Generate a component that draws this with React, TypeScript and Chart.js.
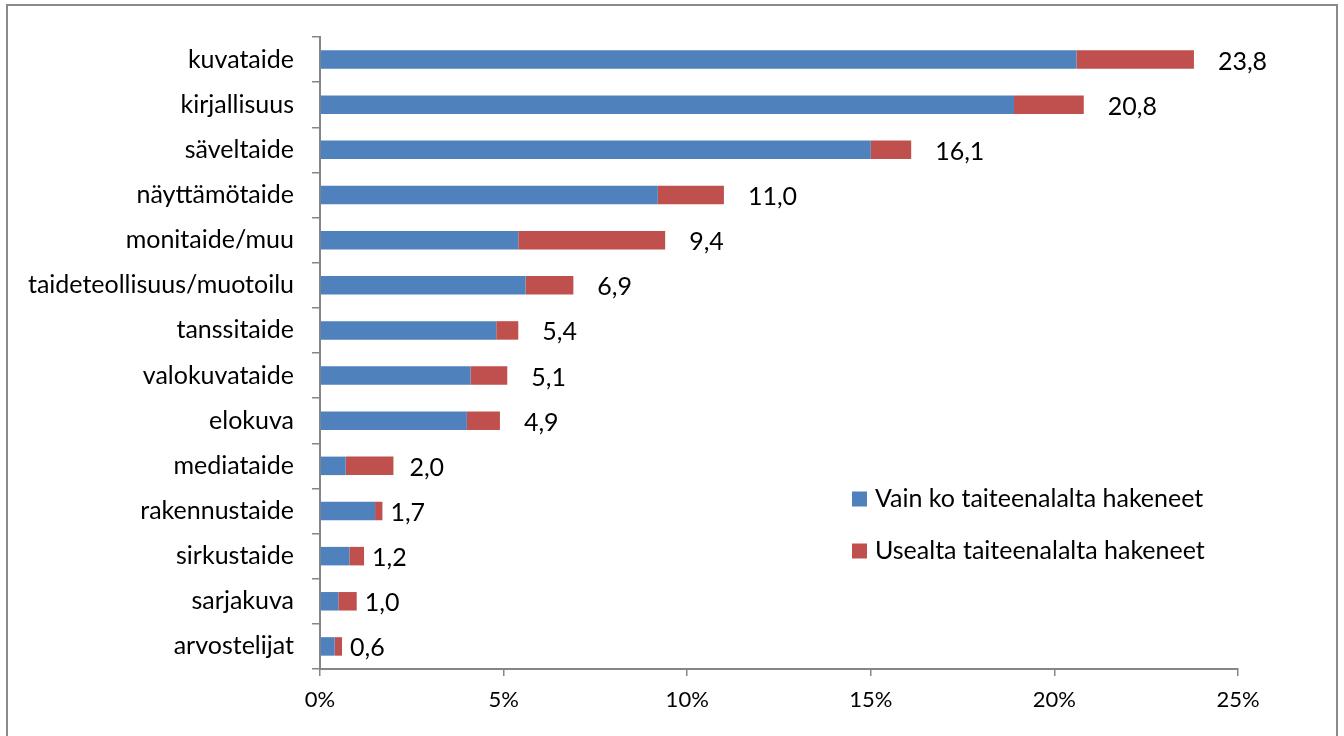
import React, { useEffect, useRef } from 'react';
import { Chart, registerables } from 'chart.js';

Chart.register(...registerables);

const categories = [
  'kuvataide',
  'kirjallisuus',
  'säveltaide',
  'näyttämötaide',
  'monitaide/muu',
  'taideteollisuus/muotoilu',
  'tanssitaide',
  'valokuvataide',
  'elokuva',
  'mediataide',
  'rakennustaide',
  'sirkustaide',
  'sarjakuva',
  'arvostelijat',
];
const onlyOneField = [20.6, 18.9, 15.0, 9.2, 5.4, 5.6, 4.8, 4.1, 4.0, 0.7, 1.5, 0.8, 0.5, 0.4];
const severalFields = [3.2, 1.9, 1.1, 1.8, 4.0, 1.3, 0.6, 1.0, 0.9, 1.3, 0.2, 0.4, 0.5, 0.2];
const totals = [23.8, 20.8, 16.1, 11.0, 9.4, 6.9, 5.4, 5.1, 4.9, 2.0, 1.7, 1.2, 1.0, 0.6];
const seriesNames = ['Vain ko taiteenalalta hakeneet', 'Usealta taiteenalalta hakeneet'];
const xTickValues = [0, 5, 10, 15, 20, 25];

const FONT = 'Lato';
const AXIS = '#868686';
const BLUE = '#4F81BD';
const RED = '#C0504D';

const fmt = (v: number) => v.toFixed(1).replace('.', ',');

export default function App() {
  const ref = useRef<HTMLCanvasElement>(null);

  useEffect(() => {
    const canvas = ref.current;
    if (!canvas) return;

    const framePlugin = {
      id: 'frame',
      beforeDraw(chart: any) {
        const ctx = chart.ctx;
        ctx.save();
        ctx.fillStyle = '#ffffff';
        ctx.fillRect(0, 0, chart.width, chart.height);
        ctx.strokeStyle = '#8a8a8a';
        ctx.lineWidth = 2;
        ctx.strokeRect(7, 5, 1330, 760);
        ctx.restore();
      },
    };

    const totalsPlugin = {
      id: 'totals',
      afterDatasetsDraw(chart: any) {
        const ctx = chart.ctx;
        const meta = chart.getDatasetMeta(chart.data.datasets.length - 1);
        ctx.save();
        ctx.font = `25px ${FONT}`;
        ctx.fillStyle = '#000';
        ctx.textAlign = 'left';
        ctx.textBaseline = 'middle';
        meta.data.forEach((bar: any, i: number) => {
          const t = totals[i];
          const gap = t >= 4 ? 24 : t >= 2 ? 16 : 8;
          ctx.fillText(fmt(t), bar.x + gap, bar.y + 2);
        });
        ctx.restore();
      },
    };

    const legendPlugin = {
      id: 'customLegend',
      afterDraw(chart: any) {
        const ctx = chart.ctx;
        const area = chart.chartArea;
        const x0 = area.right - 386;
        const y0 = area.bottom - 170;
        ctx.save();
        ctx.font = `25px ${FONT}`;
        ctx.textAlign = 'left';
        ctx.textBaseline = 'middle';
        chart.data.datasets.forEach((ds: any, i: number) => {
          const cy = y0 + i * 52;
          ctx.fillStyle = ds.backgroundColor;
          ctx.fillRect(x0, cy - 7.5, 15, 15);
          ctx.fillStyle = '#000';
          ctx.fillText(ds.label, x0 + 23, cy);
        });
        ctx.restore();
      },
    };

    const chart = new Chart(canvas, {
      type: 'bar',
      data: {
        labels: categories,
        datasets: [
          { label: seriesNames[0], data: onlyOneField, backgroundColor: BLUE, borderWidth: 0 },
          { label: seriesNames[1], data: severalFields, backgroundColor: RED, borderWidth: 0 },
        ],
      },
      options: {
        indexAxis: 'y',
        responsive: false,
        animation: false,
        devicePixelRatio: 1,
        layout: { padding: { top: 37, right: 106, bottom: 0, left: 0 } },
        datasets: { bar: { categoryPercentage: 1, barPercentage: 0.41 } },
        plugins: { legend: { display: false }, tooltip: { enabled: false } },
        scales: {
          x: {
            stacked: true,
            min: 0,
            max: 25,
            afterBuildTicks: (scale: any) => {
              scale.ticks = xTickValues.map((v) => ({ value: v }));
            },
            ticks: {
              callback: (v: any) => v + '%',
              color: '#000',
              font: { family: FONT, size: 22 },
              padding: 11,
              maxRotation: 0,
            },
            grid: {
              display: true,
              drawOnChartArea: false,
              drawTicks: true,
              tickLength: 7,
              color: AXIS,
              lineWidth: 1.5,
            },
            border: { display: true, color: AXIS, width: 2 },
            afterFit: (s: any) => {
              s.height = 67;
            },
          },
          y: {
            stacked: true,
            ticks: { color: '#000', font: { family: FONT, size: 25 }, padding: 18, autoSkip: false },
            grid: {
              display: true,
              offset: true,
              drawOnChartArea: false,
              drawTicks: true,
              tickLength: 8,
              color: AXIS,
              lineWidth: 1.5,
            },
            border: { display: true, color: AXIS, width: 2 },
            afterFit: (s: any) => {
              s.width = 320;
            },
          },
        },
      },
      plugins: [framePlugin, totalsPlugin, legendPlugin],
    });

    return () => chart.destroy();
  }, []);

  return (
    <div style={{ position: 'absolute', left: 0, top: 0, width: 1344, height: 736 }}>
      <canvas ref={ref} width={1344} height={736} style={{ display: 'block' }} />
    </div>
  );
}
